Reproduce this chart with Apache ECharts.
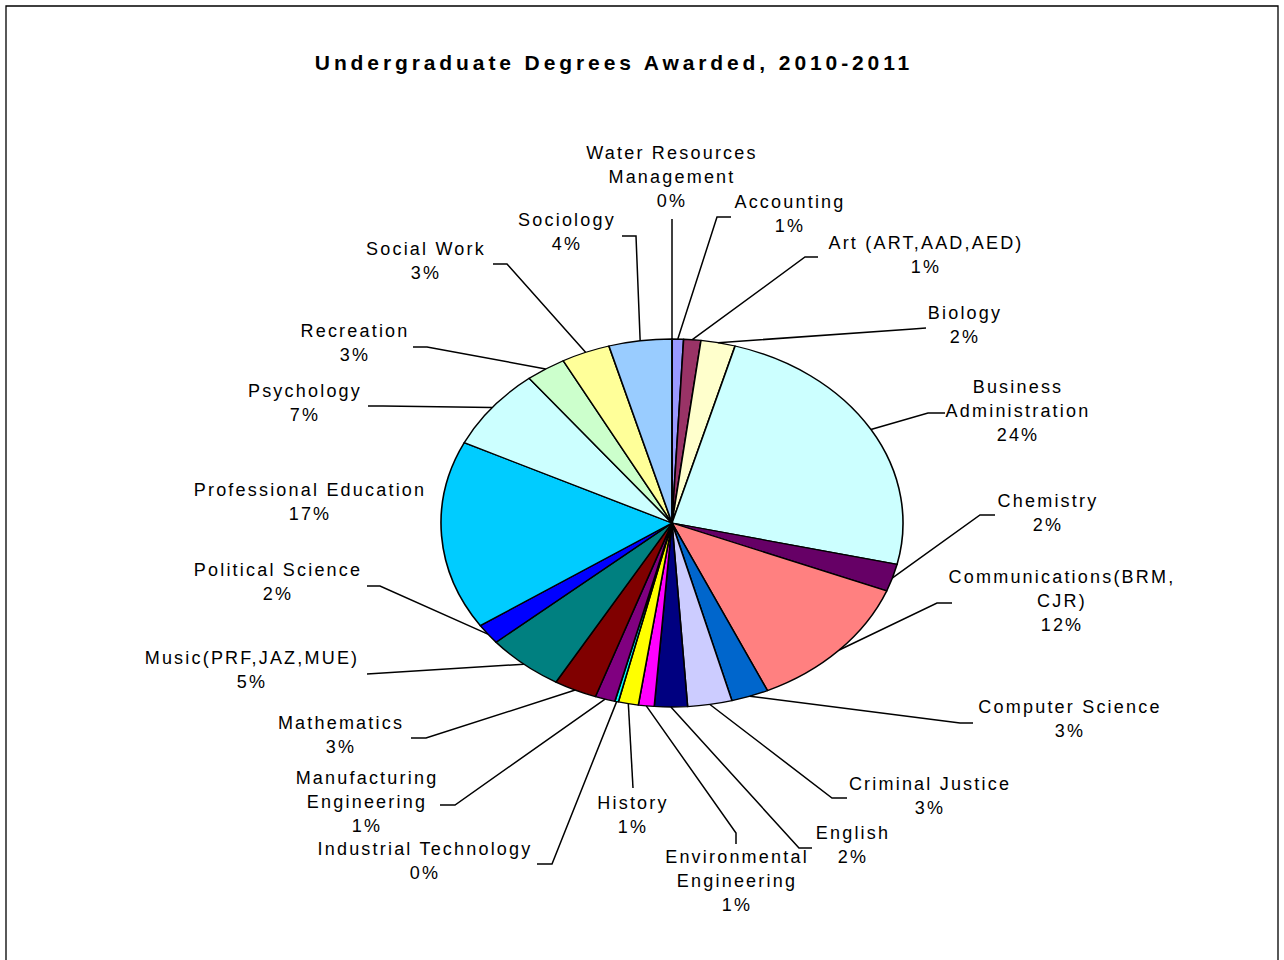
<!DOCTYPE html>
<html>
<head>
<meta charset="utf-8">
<title>Undergraduate Degrees Awarded, 2010-2011</title>
<script src="https://cdn.jsdelivr.net/npm/echarts@6/dist/echarts.min.js"></script>
<style>
  html, body { margin: 0; padding: 0; background: #ffffff; }
  #stage { position: relative; width: 1284px; height: 960px; overflow: hidden; }
  #pie, #overlay { position: absolute; left: 0; top: 0; width: 1284px; height: 960px; }
  /* squash the round pie into the flattened ellipse */
  #pie { transform-origin: 672px 523px; transform: scaleY(0.7965); }
  #overlay text { letter-spacing: 2.2px; }
  #overlay text[style*="bold"] { letter-spacing: 3.9px; }
</style>
</head>
<body>
<div id="stage">
  <div id="pie"></div>
  <div id="overlay"></div>
</div>
<script>
// Degree programmes (alphabetical, drawn clockwise from 12 o'clock)
const categories = [
  'Accounting',
  'Art (ART,AAD,AED)',
  'Biology',
  'Business\nAdministration',
  'Chemistry',
  'Communications(BRM,\nCJR)',
  'Computer Science',
  'Criminal Justice',
  'English',
  'Environmental\nEngineering',
  'History',
  'Industrial Technology',
  'Manufacturing\nEngineering',
  'Mathematics',
  'Music(PRF,JAZ,MUE)',
  'Political Science',
  'Professional Education',
  'Psychology',
  'Recreation',
  'Social Work',
  'Sociology',
  'Water Resources\nManagement'
];

// Share of degrees awarded (percent)
const values = [
  0.8, 1.2, 2.4, 24.2, 2.4, 12.2, 2.6, 3.1, 2.3, 1.1, 1.4,
  0.25, 1.4, 3.0, 5.4, 1.8, 16.6, 7.2, 2.8, 3.4, 4.4, 0
];

const titleText = 'Undergraduate Degrees Awarded, 2010-2011';

// Slice fills
const palette = [
  '#9999FF', '#993366', '#FFFFCC', '#CCFFFF', '#660066', '#FF8080',
  '#0066CC', '#CCCCFF', '#000080', '#FF00FF', '#FFFF00', '#00FFFF',
  '#800080', '#800000', '#008080', '#0000FF', '#00CCFF', '#CCFFFF',
  '#CCFFCC', '#FFFF99', '#99CCFF', '#FF99CC'
];

// Pie geometry on the page
const PIE_CX = 672, PIE_CY = 523, PIE_RX = 231, PIE_RY = 184;

// Label placement: text block centre, leader anchor at the label, optional elbow
const labelLayout = [
  { text: [790, 214],  anchor: [731, 217], elbow: [717, 217] },
  { text: [926, 255],  anchor: [818, 257], elbow: [805, 257] },
  { text: [965, 325],  anchor: [926, 328], elbow: [913, 329] },
  { text: [1018, 411], anchor: [945, 413], elbow: [928, 413] },
  { text: [1048, 513], anchor: [995, 515], elbow: [980, 515] },
  { text: [1062, 601], anchor: [952, 603], elbow: [937, 603] },
  { text: [1070, 719], anchor: [973, 723], elbow: [960, 723] },
  { text: [930, 796],  anchor: [847, 798], elbow: [832, 798] },
  { text: [853, 845],  anchor: [812, 848], elbow: [799, 848] },
  { text: [737, 881],  anchor: [736, 844], elbow: [736, 833] },
  { text: [633, 815],  anchor: [633, 788], elbow: null },
  { text: [425, 861],  anchor: [537, 864], elbow: [552, 864] },
  { text: [367, 802],  anchor: [440, 805], elbow: [455, 805] },
  { text: [341, 735],  anchor: [411, 738], elbow: [426, 738] },
  { text: [252, 670],  anchor: [367, 674], elbow: null },
  { text: [278, 582],  anchor: [367, 586], elbow: [380, 586] },
  { text: [310, 502],  anchor: null,       elbow: null },
  { text: [305, 403],  anchor: [368, 406], elbow: [383, 406] },
  { text: [355, 343],  anchor: [413, 347], elbow: [427, 347] },
  { text: [426, 261],  anchor: [493, 264], elbow: [507, 264] },
  { text: [567, 232],  anchor: [622, 236], elbow: [636, 236] },
  { text: [672, 177],  anchor: [672, 219], elbow: null }
];

const FONT = '"Liberation Sans", Arial, Helvetica, sans-serif';
const total = values.reduce((a, b) => a + b, 0);

// ---- the pie itself ----
const pieChart = echarts.init(document.getElementById('pie'), null, { renderer: 'svg' });
pieChart.setOption({
  animation: false,
  backgroundColor: 'transparent',
  series: [{
    type: 'pie',
    silent: true,
    center: [PIE_CX, PIE_CY],
    radius: PIE_RX,
    startAngle: 90,
    clockwise: true,
    minAngle: 0,
    label: { show: false },
    labelLine: { show: false },
    itemStyle: { borderColor: '#000000', borderWidth: 1.6 },
    data: categories.map((name, i) => ({
      name: name,
      value: values[i],
      itemStyle: { color: palette[i] }
    }))
  }]
});

// ---- title, frame, labels and leader lines ----
const graphics = [{
  type: 'rect',
  silent: true,
  shape: { x: 6, y: 6, width: 1272, height: 1000 },
  style: { fill: null, stroke: '#000000', lineWidth: 1.3 }
}];

let cum = 0;
categories.forEach((name, i) => {
  const mid = (cum + values[i] / 2) / total;
  cum += values[i];
  const ang = mid * 2 * Math.PI;
  const edge = [PIE_CX + PIE_RX * Math.sin(ang), PIE_CY - PIE_RY * Math.cos(ang)];
  const lay = labelLayout[i];
  const pct = Math.round(values[i] / total * 100) + '%';

  if (lay.anchor) {
    const pts = [edge];
    if (lay.elbow) pts.push(lay.elbow);
    pts.push(lay.anchor);
    graphics.push({
      type: 'polyline',
      silent: true,
      shape: { points: pts },
      style: { stroke: '#000000', lineWidth: 1.5, fill: null }
    });
  }
  graphics.push({
    type: 'text',
    silent: true,
    x: lay.text[0],
    y: lay.text[1],
    style: {
      text: name + '\n' + pct,
      fontFamily: FONT,
      fontSize: 18,
      lineHeight: 24,
      fill: '#000000',
      align: 'center',
      verticalAlign: 'middle',
      textAlign: 'center',
      textVerticalAlign: 'middle'
    }
  });
});

const overlay = echarts.init(document.getElementById('overlay'), null, { renderer: 'svg' });
overlay.setOption({
  animation: false,
  backgroundColor: 'transparent',
  title: {
    text: titleText,
    left: 614,
    top: 62,
    padding: 0,
    textAlign: 'center',
    textVerticalAlign: 'middle',
    textStyle: { fontFamily: FONT, fontSize: 21, fontWeight: 'bold', color: '#000000' }
  },
  graphic: graphics
});
</script>
</body>
</html>
